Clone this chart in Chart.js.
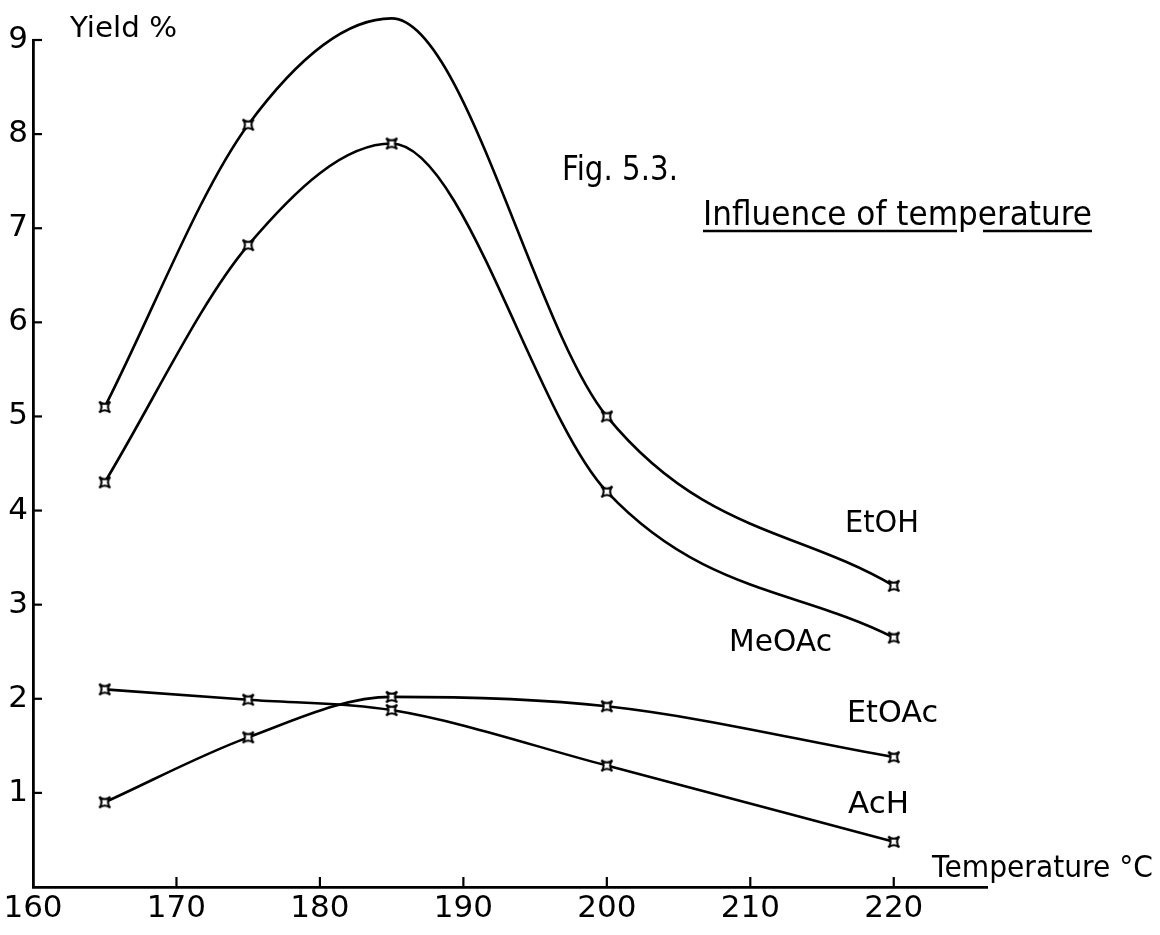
<!DOCTYPE html>
<html>
<head>
<meta charset="utf-8">
<script src="https://cdn.jsdelivr.net/npm/chart.js@4.4.0/dist/chart.umd.min.js"></script>
<style>
  html, body { margin: 0; padding: 0; background: #fff; }
  #wrap { width: 1160px; height: 935px; }
</style>
</head>
<body>
<div id="wrap"><canvas id="myChart" width="1160" height="935"></canvas></div>
<script>
// temperature (°C) and yields (%)
const temps = [165, 175, 185, 200, 220];
const etoh = [5.1, 8.1, 9.23, 5.0, 3.2];
const meoac = [4.3, 6.82, 7.9, 4.2, 2.65];
const etoac = [0.9, 1.59, 2.02, 1.92, 1.38];
const ach = [2.1, 1.99, 1.88, 1.29, 0.48];

const xTicks = [160, 170, 180, 190, 200, 210, 220];
const yTicks = [1, 2, 3, 4, 5, 6, 7, 8, 9];

const FONT = "'DejaVu Sans', 'Liberation Sans', sans-serif";

// little four-cornered star used as the marker on the curves
function makeMarker() {
  const c = document.createElement("canvas");
  c.width = 16;
  c.height = 16;
  const g = c.getContext("2d");
  g.translate(8, 8);
  g.beginPath();
  g.moveTo(-5.5, -5.5);
  g.quadraticCurveTo(0, -1, 5.5, -5.5);
  g.quadraticCurveTo(1, 0, 5.5, 5.5);
  g.quadraticCurveTo(0, 1, -5.5, 5.5);
  g.quadraticCurveTo(-1, 0, -5.5, -5.5);
  g.closePath();
  g.fillStyle = "#fff";
  g.fill();
  g.lineWidth = 2;
  g.strokeStyle = "#000";
  g.stroke();
  return c;
}
const marker = makeMarker();

function series(label, values) {
  return {
    label: label,
    data: temps.map((t, i) => ({ x: t, y: values[i] })),
    borderColor: "#000",
    borderWidth: 2.6,
    pointStyle: marker,
    pointRadius: 8,
    cubicInterpolationMode: "monotone",
    clip: false,
    fill: false,
  };
}

// draws text squeezed to a given width (the original lettering is narrow)
function fitText(ctx, text, x, y, w, size) {
  ctx.save();
  ctx.font = size + "px " + FONT;
  const m = ctx.measureText(text).width;
  ctx.translate(x, y);
  ctx.scale(w / m, 1);
  ctx.fillText(text, 0, 0);
  ctx.restore();
}

const decorations = {
  id: "decorations",
  afterDraw(chart) {
    const { ctx, scales } = chart;
    const xs = scales.x, ys = scales.y;
    ctx.save();
    ctx.strokeStyle = "#000";
    ctx.lineWidth = 2.2;
    // inward tick marks
    xTicks.slice(1).forEach((v) => {
      const px = xs.getPixelForValue(v);
      ctx.beginPath();
      ctx.moveTo(px, ys.bottom);
      ctx.lineTo(px, ys.bottom - 10);
      ctx.stroke();
    });
    yTicks.forEach((v) => {
      const py = ys.getPixelForValue(v);
      ctx.beginPath();
      ctx.moveTo(xs.left, py);
      ctx.lineTo(xs.left + 9, py);
      ctx.stroke();
    });

    ctx.fillStyle = "#000";
    ctx.textBaseline = "alphabetic";
    fitText(ctx, "Yield %", 70, 37, 107, 28);
    fitText(ctx, "Fig. 5.3.", 562, 180, 116, 34);
    fitText(ctx, "Influence of temperature", 703, 225, 389, 33);
    fitText(ctx, "EtOH", 845, 532, 74, 30);
    fitText(ctx, "MeOAc", 729, 651, 103, 30);
    fitText(ctx, "EtOAc", 847, 722, 91, 30);
    fitText(ctx, "AcH", 848, 813, 61, 30);
    fitText(ctx, "Temperature °C", 932, 877, 221, 30);

    // underline of the caption, broken under the "p"
    ctx.lineWidth = 2.4;
    ctx.beginPath();
    ctx.moveTo(703, 231);
    ctx.lineTo(957, 231);
    ctx.moveTo(983, 231);
    ctx.lineTo(1092, 231);
    ctx.stroke();
    ctx.restore();
  },
};

const ctx = document.getElementById("myChart").getContext("2d");
new Chart(ctx, {
  type: "line",
  data: {
    datasets: [
      series("EtOH", etoh),
      series("MeOAc", meoac),
      series("EtOAc", etoac),
      series("AcH", ach),
    ],
  },
  options: {
    responsive: false,
    animation: false,
    devicePixelRatio: 1,
    layout: { padding: { top: 40, right: 173, left: 0, bottom: 0 } },
    plugins: {
      legend: { display: false },
      tooltip: { enabled: false },
    },
    scales: {
      x: {
        type: "linear",
        min: 160,
        max: 226.5,
        afterBuildTicks: (scale) => {
          scale.ticks = xTicks.map((v) => ({ value: v }));
        },
        afterFit: (scale) => {
          scale.height = 48;
        },
        grid: { display: true, drawOnChartArea: false, drawTicks: false },
        border: { display: true, color: "#000", width: 2.8 },
        ticks: {
          color: "#000",
          padding: 3,
          maxRotation: 0,
          autoSkip: false,
          font: { family: FONT, size: 31 },
        },
      },
      y: {
        type: "linear",
        min: 0,
        max: 9,
        afterBuildTicks: (scale) => {
          scale.ticks = yTicks.map((v) => ({ value: v }));
        },
        afterFit: (scale) => {
          scale.width = 33;
        },
        grid: { display: true, drawOnChartArea: false, drawTicks: false },
        border: { display: true, color: "#000", width: 2.8 },
        ticks: {
          color: "#000",
          padding: 5,
          autoSkip: false,
          font: { family: FONT, size: 31 },
        },
      },
    },
  },
  plugins: [decorations],
});
</script>
</body>
</html>
